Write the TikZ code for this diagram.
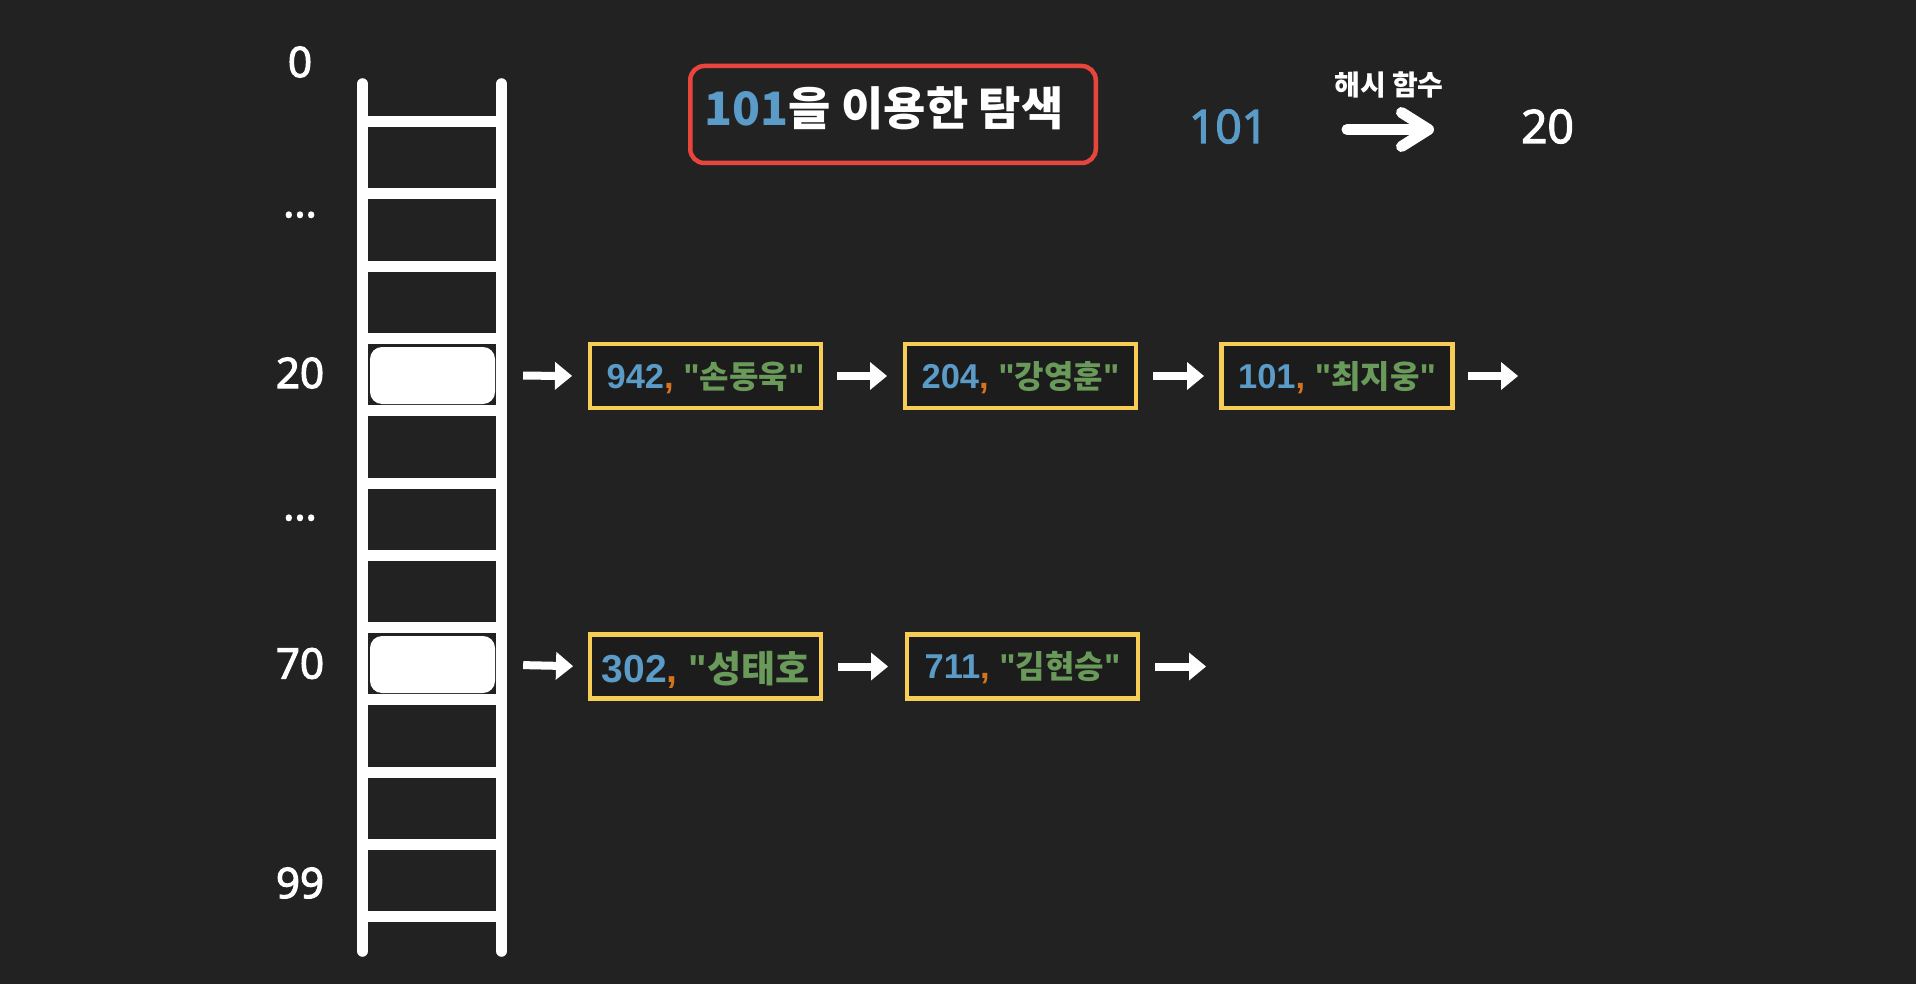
\documentclass[tikz,border=0pt]{standalone}
\usepackage{fontspec}
\setmainfont{Liberation Sans}
\newfontfamily\lat{Liberation Sans}
\newfontfamily\kr{Noto Sans CJK KR}
\newfontfamily\os{Open Sans}[FakeBold=3]
\usetikzlibrary{arrows.meta}
\definecolor{bgc}{HTML}{222222}
\definecolor{boxfill}{HTML}{1C1C1C}
\definecolor{kb}{HTML}{5A9BC8}
\definecolor{co}{HTML}{D5731E}
\definecolor{ng}{HTML}{6A9A5A}
\definecolor{yb}{HTML}{F8CD55}
\definecolor{rb}{HTML}{E8453C}
\newcommand{\hg}[1]{{\kr\fontsize{32}{38}\selectfont #1}}
\newcommand{\hgl}[1]{{\kr\fontsize{37}{44}\selectfont #1}}
\begin{document}
\begin{tikzpicture}[x=1pt,y=-1pt,
  rail/.style={white, line width=11.5pt, line cap=round},
  rung/.style={white, line width=11pt},
  slot/.style={fill=white, rounded corners=12pt, minimum width=125pt, minimum height=57pt, inner sep=0pt},
  idx/.style={text=white, font=\os\fontsize{42}{50}\selectfont, inner sep=0pt},
  entry/.style={draw=yb, fill=boxfill, line width=4.5pt, minimum width=231pt, minimum height=64pt, inner sep=0pt, font=\lat\bfseries\fontsize{34.5}{40}\selectfont, text height=25pt, text depth=0pt},
  chain/.style={white, line width=8pt, -{Triangle[length=17pt,width=28pt,line width=0pt]}},
  hashar/.style={white, line width=11pt, line cap=round, -{Straight Barb[length=27pt,width=34pt,round]}},
]
\fill[bgc] (0,0) rectangle (1916,984);
\useasboundingbox (0,0) rectangle (1916,984);

% ladder
\foreach \k in {0,...,11}
  \draw[rung] (362,{121.5+72.3*\k}) -- (502,{121.5+72.3*\k});
\draw[rail] (362.5,84) -- (362.5,951);
\draw[rail] (501.5,84) -- (501.5,951);
\node[slot] (s20) at (432.5,375.5) {};
\node[slot] (s70) at (432.5,664.5) {};

% index labels
\node[idx] (l0) at (300,62) {0};
\node[idx, anchor=base] (ld1) at (300,217) {...};
\node[idx] (l20) at (300,373) {20};
\node[idx, anchor=base] (ld2) at (300,520) {...};
\node[idx] (l70) at (300,663.5) {70};
\node[idx] (l99) at (300,883) {99};

% title
\node[draw=rb, line width=4.5pt, rounded corners=14pt, minimum width=405.5pt, minimum height=97pt,
      inner sep=0pt, text=white, font=\kr\bfseries\fontsize{46}{54}\selectfont,
      text height=33pt, text depth=11pt] (title) at (893,114.5) {\hspace*{-18pt}{\color{kb}101}을 이용한 탐색};

% hash function
\node[text=kb, font=\os\fontsize{46}{54}\selectfont, inner sep=0pt] (h101) at (1228.5,126.5) {101};
\node[text=white, font=\os\fontsize{46}{54}\selectfont, inner sep=0pt] (h20) at (1547.5,126.5) {20};
\node[text=white, font=\kr\bfseries\fontsize{28}{34}\selectfont, inner sep=0pt] (hf) at (1389,85) {해시 함수};
\coordinate (ha1) at (1347,129.5);
\coordinate (ha2) at (1434,129.5);
\draw[hashar] (ha1) -- (ha2);

% chain of index 20
\node[entry] (b1) at (705.5,376) {{\color{kb}942}{\color{co},} {\color{ng}"\hg{손동욱}"}};
\node[entry] (b2) at (1020.5,376) {{\color{kb}204}{\color{co},} {\color{ng}"\hg{강영훈}"}};
\node[entry] (b3) at (1337,376) {{\color{kb}101}{\color{co},} {\color{ng}"\hg{최지웅}"}};
\coordinate (e1) at (1518,376);
\draw[chain, shorten <=28pt, shorten >=15.75pt] (s20.east) -- (b1.west);
\draw[chain, shorten <=13.75pt, shorten >=15.75pt] (b1.east) -- (b2.west);
\draw[chain, shorten <=14.75pt, shorten >=15.25pt] (b2.east) -- (b3.west);
\draw[chain, shorten <=13.25pt] (b3.east) -- (e1);

% chain of index 70
\node[entry, font=\lat\bfseries\fontsize{39}{46}\selectfont, text height=31pt, text depth=0pt] (c1) at (705.5,666.5) {{\color{kb}302}{\color{co},} {\color{ng}"\hgl{성태호}}};
\node[entry, text height=23pt, text depth=0pt] (c2) at (1022.5,666.5) {{\color{kb}711}{\color{co},} {\color{ng}"\hg{김현승}"}};
\coordinate (e2) at (1206,666.5);
\draw[chain, shorten <=28pt, shorten >=14.75pt] (s70.east) -- (c1.west);
\draw[chain, shorten <=14.75pt, shorten >=16.75pt] (c1.east) -- (c2.west);
\draw[chain, shorten <=14.75pt] (c2.east) -- (e2);
\end{tikzpicture}
\end{document}
